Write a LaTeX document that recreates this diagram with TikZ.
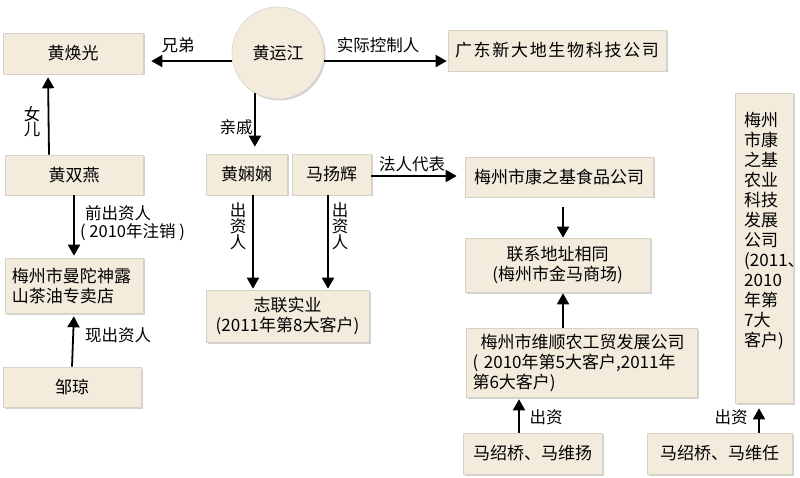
\documentclass[tikz,border=0pt]{standalone}
\usepackage{fontspec}
\setmainfont{Noto Sans CJK SC}
\usetikzlibrary{arrows.meta,shadows}
\definecolor{boxfill}{HTML}{F3ECDD}
\definecolor{boxline}{HTML}{D8D2C6}
\tikzset{
  box/.style={draw=boxline, line width=0.6pt, fill=boxfill, inner sep=0pt,
    drop shadow={shadow xshift=1.5pt, shadow yshift=-1.5pt, opacity=0.35, fill=gray},
    font=\fontsize{17}{20}\selectfont, align=center},
  arr/.style={line width=1.8pt, -{Triangle[length=11pt,width=12pt]}},
  lbl/.style={font=\fontsize{16.5}{20}\selectfont, inner sep=0pt},
  vlbl/.style={font=\fontsize{16.5}{15}\selectfont, inner sep=0pt, align=center},
}
\begin{document}
\begin{tikzpicture}[x=1pt,y=-1pt]
\path[use as bounding box, fill=white] (0,0) rectangle (800,478);

% nodes
\node[box, circle, minimum size=92pt] (hyj) at (278,53) {黄运江};
\node[box, minimum width=140pt, minimum height=41pt] (hhg) at (73,53.5) {黄焕光};
\node[box, minimum width=218pt, minimum height=41pt] (gd) at (557,50.5) {\addfontfeature{LetterSpace=10}广东新大地生物科技公司};
\node[box, minimum width=138pt, minimum height=40pt] (hsy) at (74,175) {黄双燕};
\node[box, minimum width=138pt, minimum height=55pt, align=left, text width=124pt] (mt) at (74,285.5) {梅州市曼陀神露\\山茶油专卖店};
\node[box, minimum width=138pt, minimum height=40pt] (zq) at (72,387) {邹琼};
\node[box, minimum width=81pt, minimum height=41pt] (hxx) at (246.5,174.5) {黄娴娴};
\node[box, minimum width=79pt, minimum height=41pt] (myh) at (331.5,174.5) {马扬辉};
\node[box, minimum width=163pt, minimum height=52pt] (zl) at (287.5,316) {志联实业\\(2011年第8大客户)};
\node[box, minimum width=188pt, minimum height=40pt] (kzj) at (559,177) {梅州市康之基食品公司};
\node[box, minimum width=185pt, minimum height=54pt] (lx) at (557.5,265) {联系地址相同\\(梅州市金马商场)};
\node[box, minimum width=231pt, minimum height=69pt, align=left, text width=218pt] (ws) at (581.5,362.5) {\hspace*{8pt}梅州市维顺农工贸发展公司\\( 2010年第5大客户,2011年\\第6大客户)};
\node[box, minimum width=139pt, minimum height=41pt] (msq1) at (532.5,453.5) {马绍桥、马维扬};
\node[box, minimum width=145pt, minimum height=41pt] (msq2) at (719.5,453.5) {马绍桥、马维任};
\node[box, minimum width=58pt, minimum height=310pt] (kzjny) at (764,248) {};
\node[anchor=north west, inner sep=0pt, align=left, font=\fontsize{17}{20}\selectfont] (kzjnyt) at (744,112)
  {梅州\\市康\\之基\\农业\\科技\\发展\\公司\\(2011、\\2010\\年第\\7大\\客户)};

% connectors
\draw[arr, shorten >=8pt] (hyj.190) -- (hyj.190 -| hhg.east);
\draw[arr, shorten >=1pt] (hyj.-10) -- (hyj.-10 -| gd.west);
\draw[arr, shorten >=7pt] (hyj.240) -- (hyj.240 |- hxx.north);
\draw[arr, shorten >=3pt] ([xshift=-25pt]hsy.north) -- ([xshift=-25pt]hhg.south);
\draw[arr, shorten >=2pt] (hsy.south) -- (mt.north);
\draw[arr, shorten >=3pt] (zq.north) -- (mt.south);
\draw[arr, shorten >=1pt] ([xshift=6.5pt]hxx.south) -- ([xshift=6.5pt]hxx.south |- zl.north);
\draw[arr, shorten >=1pt] ([xshift=-3.5pt]myh.south) -- ([xshift=-3.5pt]myh.south |- zl.north);
\draw[arr, shorten >=8pt] ([yshift=-1.5pt]myh.east) -- ([yshift=-1.5pt]myh.east -| kzj.west);
\draw[arr, shorten <=10pt] ([xshift=4pt]kzj.south) -- ([xshift=4pt]kzj.south |- lx.north);
\draw[arr, shorten >=1pt] ([xshift=5.5pt]lx.south |- ws.north) -- ([xshift=5.5pt]lx.south);
\draw[arr, shorten >=2pt] ([xshift=-13.5pt]msq1.north) -- ([xshift=-13.5pt]msq1.north |- ws.south);
\draw[arr, shorten >=5pt] ([xshift=39.5pt]msq2.north) -- ([xshift=39.5pt]msq2.north |- kzjny.south);

% labels
\node[lbl] (l1) at (178,45) {兄弟};
\node[lbl] (l2) at (378,45) {实际控制人};
\node[lbl] (l3) at (236,127) {亲戚};
\node[vlbl] (l4) at (32,121.5) {女\\儿};
\node[lbl, anchor=west] (l5) at (85,213) {前出资人};
\node[lbl, anchor=west] (l6) at (80,232) {( 2010年注销 )};
\node[vlbl] (l7) at (238,226.5) {出\\资\\人};
\node[vlbl] (l8) at (340,226.5) {出\\资\\人};
\node[lbl] (l9) at (412,164) {法人代表};
\node[lbl] (l10) at (118,335) {现出资人};
\node[lbl] (l11) at (546,417) {出资};
\node[lbl] (l12) at (731,417) {出资};
\end{tikzpicture}
\end{document}
